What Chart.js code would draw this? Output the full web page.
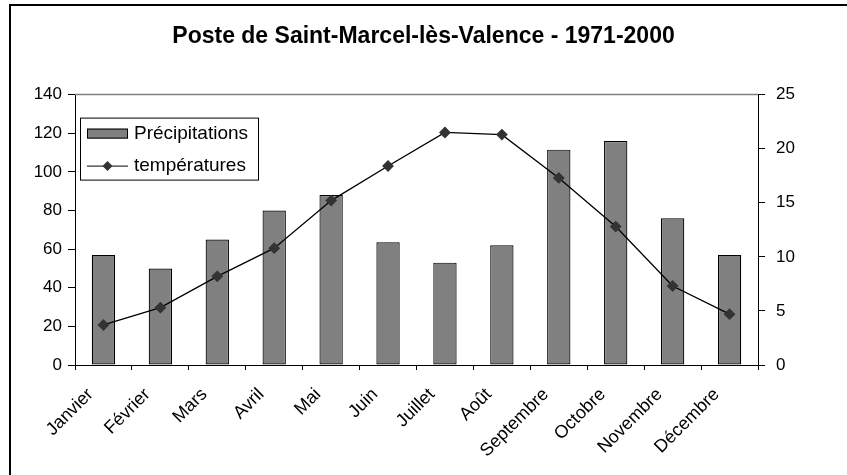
<!DOCTYPE html>
<html>
<head>
<meta charset="utf-8">
<script src="https://cdn.jsdelivr.net/npm/chart.js@4/dist/chart.umd.min.js"></script>
<style>
  html, body { margin: 0; padding: 0; background: #fff; }
  canvas { display: block; }
</style>
</head>
<body>
<canvas id="chart" width="847" height="475"></canvas>
<script>
// Data
const months = ['Janvier', 'Février', 'Mars', 'Avril', 'Mai', 'Juin', 'Juillet', 'Août', 'Septembre', 'Octobre', 'Novembre', 'Décembre'];
const precipitations = [57, 50, 65, 80, 88, 63.5, 53, 62, 111.5, 116, 76, 57];
const temperatures = [3.7, 5.3, 8.2, 10.8, 15.2, 18.4, 21.5, 21.3, 17.3, 12.8, 7.3, 4.7];
const precipTicks = [0, 20, 40, 60, 80, 100, 120, 140];
const tempTicks = [0, 5, 10, 15, 20, 25];

const FONT = '"Liberation Sans", Arial, sans-serif';

// White background + outer frame (left and top edges only)
const framePlugin = {
    id: 'frame',
    beforeDraw(chart) {
        const ctx = chart.ctx;
        ctx.save();
        ctx.fillStyle = '#fff';
        ctx.fillRect(0, 0, chart.width, chart.height);
        ctx.strokeStyle = '#000';
        ctx.lineWidth = 2;
        ctx.beginPath();
        ctx.moveTo(10, chart.height);
        ctx.lineTo(10, 5);
        ctx.lineTo(chart.width, 5);
        ctx.stroke();
        ctx.restore();
    },
    afterDraw(chart) {
        // grey top edge of the plot area
        const a = chart.chartArea;
        const ctx = chart.ctx;
        ctx.save();
        ctx.strokeStyle = '#808080';
        ctx.lineWidth = 1.5;
        ctx.beginPath();
        ctx.moveTo(a.left, a.top);
        ctx.lineTo(a.right, a.top);
        ctx.stroke();
        ctx.restore();
    }
};

// Legend box drawn inside the plot area
const boxLegend = {
    id: 'boxLegend',
    afterDraw(chart) {
        const a = chart.chartArea;
        const ctx = chart.ctx;
        const x = a.left + 5, y = a.top + 23, w = 178, h = 62;
        ctx.save();
        ctx.fillStyle = '#fff';
        ctx.fillRect(x, y, w, h);
        ctx.strokeStyle = '#000';
        ctx.lineWidth = 1;
        ctx.strokeRect(x + 0.5, y + 0.5, w, h);

        // bar swatch
        ctx.fillStyle = '#808080';
        ctx.fillRect(x + 7, y + 11, 41, 10);
        ctx.strokeRect(x + 7.5, y + 11.5, 40, 9);

        // line swatch with diamond
        const ly = y + 48.5;
        ctx.strokeStyle = '#000';
        ctx.beginPath();
        ctx.moveTo(x + 7, ly);
        ctx.lineTo(x + 48, ly);
        ctx.stroke();
        ctx.fillStyle = '#333';
        ctx.beginPath();
        ctx.moveTo(x + 27.5, ly - 5);
        ctx.lineTo(x + 32.5, ly);
        ctx.lineTo(x + 27.5, ly + 5);
        ctx.lineTo(x + 22.5, ly);
        ctx.closePath();
        ctx.fill();

        ctx.fillStyle = '#000';
        ctx.font = '19px ' + FONT;
        ctx.textBaseline = 'middle';
        ctx.textAlign = 'left';
        ctx.fillText(chart.data.datasets[0].label, x + 54, y + 16);
        ctx.fillText(chart.data.datasets[1].label, x + 54, ly);
        ctx.restore();
    }
};

new Chart(document.getElementById('chart'), {
    type: 'bar',
    data: {
        labels: months,
        datasets: [
            {
                type: 'bar',
                label: 'Précipitations',
                data: precipitations,
                yAxisID: 'y',
                backgroundColor: '#808080',
                borderColor: '#000',
                borderWidth: 1.2,
                borderSkipped: false,
                categoryPercentage: 1,
                barPercentage: 0.41,
                order: 1
            },
            {
                type: 'line',
                label: 'températures',
                data: temperatures,
                yAxisID: 'y1',
                borderColor: '#000',
                borderWidth: 1.3,
                tension: 0,
                pointStyle: 'rectRot',
                pointRadius: 5,
                pointBackgroundColor: '#333',
                pointBorderColor: '#333',
                order: 0
            }
        ]
    },
    options: {
        responsive: false,
        animation: false,
        layout: { padding: { left: 0, right: 0, top: 0, bottom: 0 } },
        plugins: {
            legend: { display: false },
            tooltip: { enabled: false },
            title: {
                display: true,
                text: 'Poste de Saint-Marcel-lès-Valence - 1971-2000',
                color: '#000',
                font: { family: FONT, size: 23, weight: 'bold' },
                padding: { top: 23, bottom: 44 }
            }
        },
        scales: {
            x: {
                offset: true,
                grid: { offset: true, drawOnChartArea: false, tickLength: 5, color: '#000' },
                border: { color: '#000', width: 1 },
                ticks: {
                    color: '#000',
                    font: { family: FONT, size: 18 },
                    minRotation: 45,
                    maxRotation: 45,
                    autoSkip: false,
                    padding: 14,
                    labelOffset: -13
                },
                afterFit(scale) { scale.height = 110; }
            },
            y: {
                position: 'left',
                min: 0,
                max: 140,
                afterBuildTicks(scale) { scale.ticks = precipTicks.map(v => ({ value: v })); },
                grid: { drawOnChartArea: false, tickLength: 7, color: '#000' },
                border: { color: '#000', width: 1 },
                ticks: { color: '#000', font: { family: FONT, size: 17 }, padding: 6 },
                afterFit(scale) { scale.width = 75; }
            },
            y1: {
                position: 'right',
                min: 0,
                max: 25,
                afterBuildTicks(scale) { scale.ticks = tempTicks.map(v => ({ value: v })); },
                grid: { drawOnChartArea: false, tickLength: 7, color: '#000' },
                border: { color: '#000', width: 1 },
                ticks: { color: '#000', font: { family: FONT, size: 17 }, padding: 11 },
                afterFit(scale) { scale.width = 89; }
            }
        }
    },
    plugins: [framePlugin, boxLegend]
});
</script>
</body>
</html>
